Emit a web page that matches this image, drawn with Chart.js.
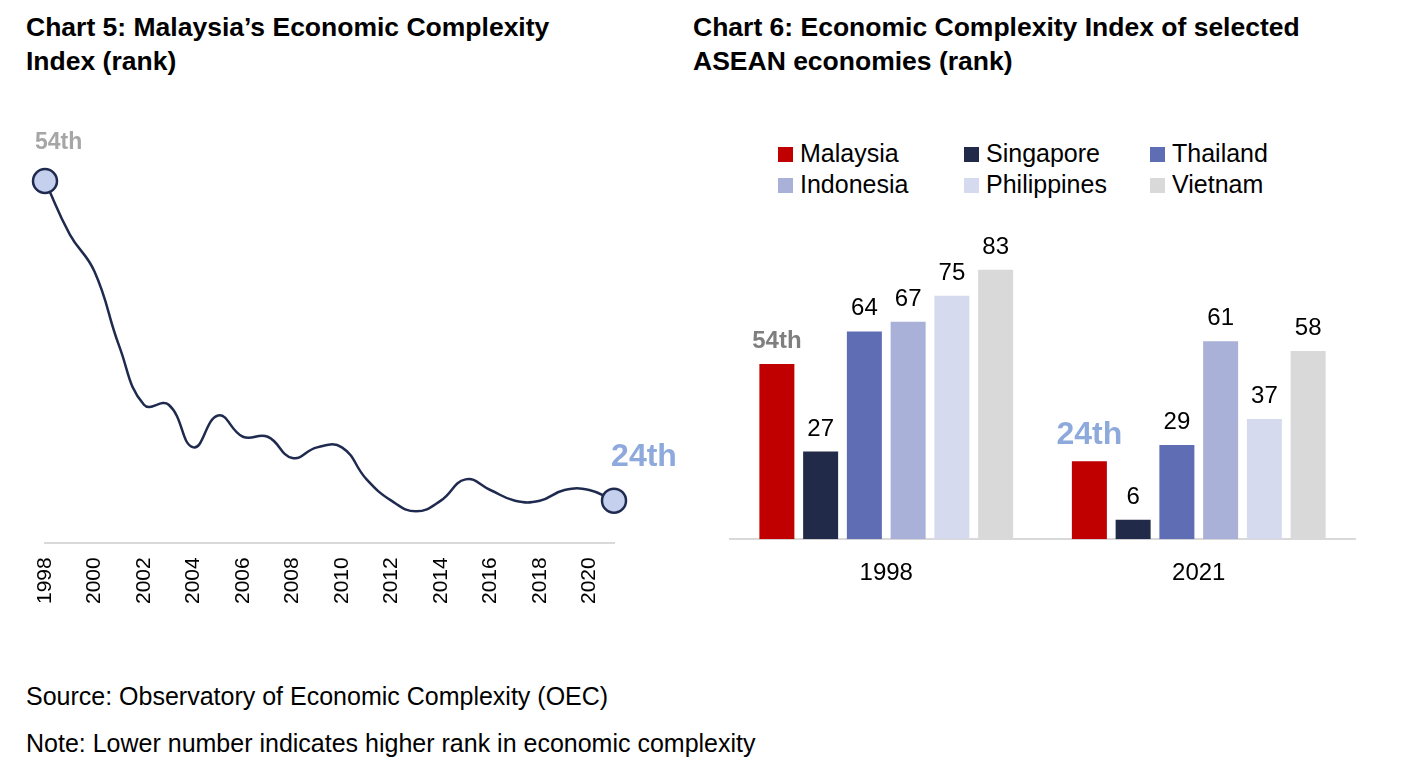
<!DOCTYPE html>
<html><head><meta charset="utf-8">
<script src="https://cdn.jsdelivr.net/npm/chart.js@4"></script>
<style>
body{margin:0;background:#fff;font-family:"Liberation Sans",Arial,sans-serif;width:1401px;height:770px;position:relative;overflow:hidden}
.t{position:absolute;font-weight:bold;font-size:26.5px;line-height:34px;color:#000}
canvas{position:absolute}
.lg{position:absolute;left:778px;top:139px;font-size:25px;display:grid;grid-template-columns:186px 186px 186px;row-gap:2px}
.lg span{display:inline-block;width:15px;height:15px;margin-right:7px}
.n{position:absolute;left:26px;font-size:25px;color:#000}
</style></head><body>
<div class="t" style="left:26px;top:10px">Chart 5: Malaysia’s Economic Complexity<br>Index (rank)</div>
<div class="t" style="left:693px;top:10px">Chart 6: Economic Complexity Index of selected<br>ASEAN economies (rank)</div>
<canvas id="c1" width="700" height="518" style="left:15px;top:100px"></canvas>
<canvas id="c2" width="640" height="408" style="left:725px;top:200px"></canvas>
<div class="lg" id="lg"></div>
<div class="n" style="top:682px">Source: Observatory of Economic Complexity (OEC)</div>
<div class="n" style="top:729px">Note: Lower number indicates higher rank in economic complexity</div>
<script>
const years = ['1998','1999','2000','2001','2002','2003','2004','2005','2006','2007','2008','2009','2010','2011','2012','2013','2014','2015','2016','2017','2018','2019','2020','2021'];
const malaysiaRank = [54,49,45.5,38.5,33,33,29,32,30,30,28,29,29,26,24,23,24,26,25,24,24,25,25,24];

const barYears = ['1998','2021'];
const countries = ['Malaysia','Singapore','Thailand','Indonesia','Philippines','Vietnam'];
const countryColors = ['#C00000','#222A4A','#5F6DB5','#A9B1D9','#D5DAEE','#D9D9D9'];
const ranks = {
  Malaysia:[54,24], Singapore:[27,6], Thailand:[64,29],
  Indonesia:[67,61], Philippines:[75,37], Vietnam:[83,58]
};

Chart.defaults.font.family = '"Liberation Sans", Arial, sans-serif';
Chart.defaults.color = '#000';

const lineLabels = {
  id:'lineLabels',
  afterDatasetsDraw(chart){
    const c = chart.ctx, m = chart.getDatasetMeta(0).data;
    c.save();
    c.font = 'bold 23px "Liberation Sans", Arial';
    c.fillStyle = '#A6A6A6';
    c.textAlign = 'left';
    c.fillText('54th', m[0].x - 10, m[0].y - 32);
    c.font = 'bold 32px "Liberation Sans", Arial';
    c.fillStyle = '#8EA9DB';
    c.textAlign = 'center';
    const p = m[m.length-1];
    c.fillText('24th', p.x + 30, p.y - 35);
    c.restore();
  }
};

new Chart(document.getElementById('c1'), {
  type:'line',
  data:{labels:years, datasets:[{
    data:malaysiaRank, borderColor:'#1F2A4F', borderWidth:2.5, tension:0.45,
    pointRadius:years.map((y,i)=> i===0||i===years.length-1 ? 12 : 0),
    pointBackgroundColor:'#C5D0EE', pointBorderColor:'#1F2A4F', pointBorderWidth:2.5
  }]},
  options:{responsive:false, animation:false, clip:false,
    layout:{padding:{top:81,left:30,right:101}},
    plugins:{legend:{display:false},tooltip:{enabled:false}},
    scales:{
      y:{display:false,min:20,max:54},
      x:{grid:{display:false,drawTicks:false},border:{color:'#D9D9D9',width:2},
        ticks:{font:{size:21},maxRotation:90,minRotation:90,autoSkip:false,padding:14,
          callback:(v,i)=> i%2===0 ? years[i] : ''}}
    }
  },
  plugins:[lineLabels]
});

const barLabels = {
  id:'barLabels',
  afterDatasetsDraw(chart){
    const c = chart.ctx;
    c.save(); c.textAlign = 'center';
    chart.data.datasets.forEach((ds,di)=>{
      chart.getDatasetMeta(di).data.forEach((b,i)=>{
        if(di===0){
          c.font = 'bold ' + (i===0?'24px':'32px') + ' "Liberation Sans", Arial';
          c.fillStyle = i===0 ? '#7F7F7F' : '#8EA9DB';
          c.fillText(ds.data[i]+'th', b.x, b.y - (i===0?16:17));
        } else {
          c.font = '24px "Liberation Sans", Arial';
          c.fillStyle = '#000';
          c.fillText(ds.data[i], b.x, b.y - 16);
        }
      });
    });
    c.restore();
  }
};

new Chart(document.getElementById('c2'), {
  type:'bar',
  data:{labels:barYears, datasets:countries.map((n,i)=>({label:n,data:ranks[n],backgroundColor:countryColors[i]}))},
  options:{responsive:false, animation:false,
    categoryPercentage:0.84, barPercentage:0.8,
    layout:{padding:{top:47,left:5,right:10}},
    plugins:{legend:{display:false},tooltip:{enabled:false}},
    scales:{
      y:{display:false,min:0,max:90},
      x:{grid:{display:false,drawTicks:false},border:{color:'#D9D9D9',width:2},
        ticks:{font:{size:24},padding:20}}
    }
  },
  plugins:[barLabels]
});

document.getElementById('lg').innerHTML = countries.map((n,i)=>
  `<div><span style="background:${countryColors[i]}"></span>${n}</div>`).join('');
</script>
</body></html>
